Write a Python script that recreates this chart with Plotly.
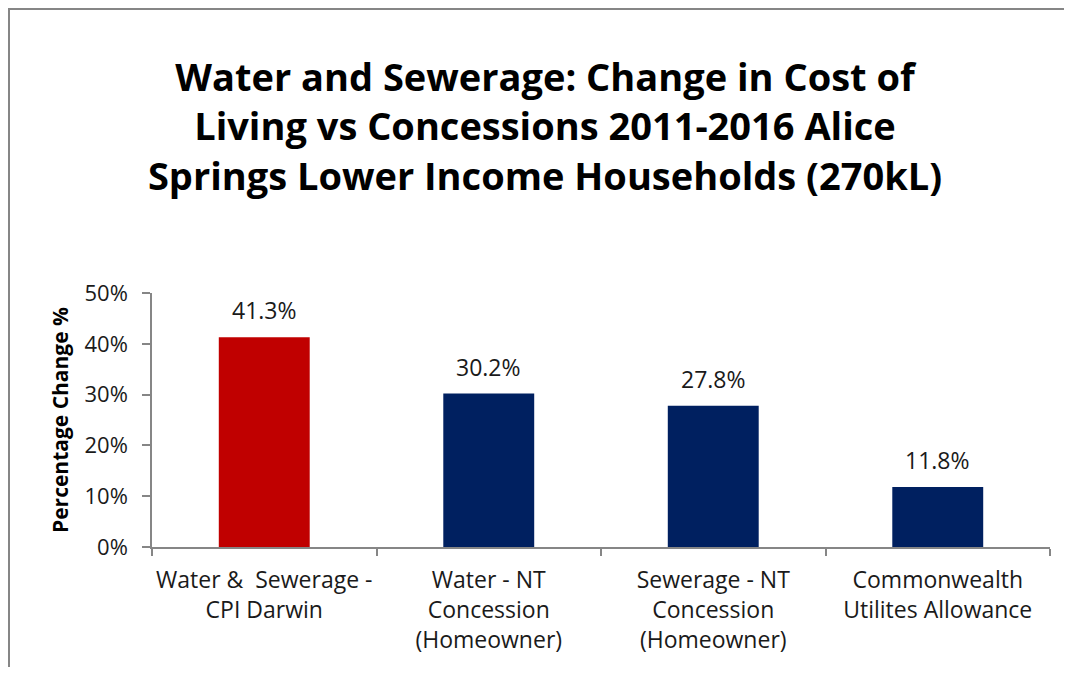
import plotly.graph_objects as go

categories = [
    "Water &  Sewerage -<br>CPI Darwin",
    "Water - NT<br>Concession<br>(Homeowner)",
    "Sewerage - NT<br>Concession<br>(Homeowner)",
    "Commonwealth<br>Utilites Allowance",
]
values = [41.3, 30.2, 27.8, 11.8]
colors = ["#C00000", "#002060", "#002060", "#002060"]
value_labels = [f"{v:.1f}%" for v in values]
y_ticks = [0, 10, 20, 30, 40, 50]
y_tick_labels = [f"{t}%" for t in y_ticks]

title_text = ("Water and Sewerage: Change in Cost of<br>"
              "Living vs Concessions 2011-2016 Alice<br>"
              "Springs Lower Income Households (270kL)")

FONT = "Open Sans"
GRAY = "#868686"

# page has an 8px body margin; figure coordinates below are page - 8
W, H = 1056, 659
L, R, T, B = 144, 1042, 285, 539

fig = go.Figure(go.Bar(
    x=categories,
    y=values,
    marker=dict(color=colors, line=dict(width=0)),
    cliponaxis=False,
    width=0.405,
    hoverinfo="x+y",
))

pw, ph = R - L, B - T
def px(x):
    return (x - L) / pw
def py(y):
    return (B - y) / ph

annotations = [dict(
    text="<b>Percentage Change %</b>",
    xref="paper", yref="paper",
    x=px(52), y=0.5, xanchor="center", yanchor="middle",
    textangle=-90, showarrow=False,
    font=dict(family=FONT, size=21, color="black"),
)]
for c, v, t in zip(categories, values, value_labels):
    annotations.append(dict(
        x=c, y=v, xref="x", yref="y", text=t, showarrow=False,
        xanchor="center", yanchor="bottom", yshift=9,
        font=dict(family=FONT, size=23, color="#1a1a1a"),
    ))

fig.update_layout(
    width=W, height=H,
    margin=dict(l=L, r=W - R, t=T, b=H - B, autoexpand=False),
    paper_bgcolor="white",
    plot_bgcolor="white",
    showlegend=False,
    font=dict(family=FONT, color="#1a1a1a"),
    title=dict(
        text=title_text,
        x=537 / W, xanchor="center",
        y=1 - 83 / H, yanchor="top",
        font=dict(family=FONT, size=38, color="black", weight="bold"),
    ),
    xaxis=dict(
        showline=True, linecolor=GRAY, linewidth=1.5,
        ticks="outside", ticklen=7, tickcolor=GRAY, tickwidth=1.5,
        tickson="boundaries",
        tickangle=0, automargin=False,
        ticklabelstandoff=12,
        tickfont=dict(family=FONT, size=23, color="#1a1a1a"),
        showgrid=False, zeroline=False,
    ),
    yaxis=dict(
        range=[0, 50],
        tickvals=y_ticks, ticktext=y_tick_labels,
        automargin=False,
        showline=True, linecolor=GRAY, linewidth=1.5,
        ticks="outside", ticklen=8, tickcolor=GRAY, tickwidth=1.5,
        ticklabelstandoff=10,
        tickfont=dict(family=FONT, size=22, color="#1a1a1a"),
        showgrid=False, zeroline=False,
    ),
    annotations=annotations,
    shapes=[
        dict(type="line", xref="paper", yref="paper",
             x0=px(1), x1=px(1), y0=py(0), y1=py(H + 5),
             line=dict(color=GRAY, width=2)),
        dict(type="line", xref="paper", yref="paper",
             x0=px(1), x1=px(W + 5), y0=py(1), y1=py(1),
             line=dict(color=GRAY, width=2)),
    ],
    bargap=0.595,
)

fig.write_html("out.html")
